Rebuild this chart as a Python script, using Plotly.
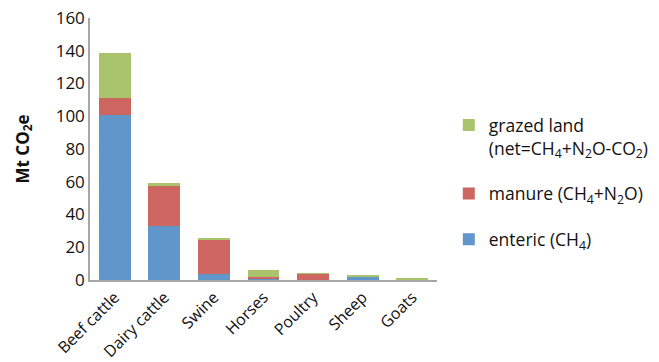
import plotly.graph_objects as go

categories = ["Beef cattle", "Dairy cattle", "Swine", "Horses", "Poultry", "Sheep", "Goats"]
enteric = [101, 33, 3.5, 0.9, 0.1, 1.9, 0.4]
manure = [10, 25, 21.3, 1.2, 4.0, 0.3, 0.1]
grazed = [27.5, 1.0, 0.3, 4.0, 0.1, 0.3, 0.2]

series_names = [
    "enteric (CH<sub>4</sub>)",
    "manure (CH<sub>4</sub>+N<sub>2</sub>O)",
    "grazed land<br>(net=CH<sub>4</sub>+N<sub>2</sub>O-CO<sub>2</sub>)",
]
colors = ["#6196CA", "#CD6660", "#AAC46E"]
ranks = [3, 2, 1]
yticks = [0, 20, 40, 60, 80, 100, 120, 140, 160]

FONT = "Open Sans"

fig = go.Figure()
for i, (vals, name, col) in enumerate(zip([enteric, manure, grazed], series_names, colors)):
    fig.add_trace(go.Bar(
        x=categories, y=vals, name=name,
        marker=dict(color=col, line=dict(width=0)),
        legendgroup=str(i), legendrank=ranks[i],
    ))

fig.update_layout(
    barmode="stack",
    bargap=0.36,
    width=659, height=362,
    margin=dict(l=90, r=222, t=18, b=82, autoexpand=False),
    plot_bgcolor="white", paper_bgcolor="white",
    font=dict(family=FONT, size=16, color="#111111"),
    showlegend=True,
    legend=dict(
        x=1.034, xanchor="left", y=0.66, yanchor="top",
        traceorder="grouped",
        tracegroupgap=20,
        valign="top",
        font=dict(family=FONT, size=17.5, color="#111111"),
        itemwidth=30,
        bgcolor="rgba(0,0,0,0)",
    ),
    yaxis=dict(
        range=[0, 160], tickvals=yticks, showgrid=False,
        showline=True, linecolor="#A6A6A6", linewidth=1.5,
        ticks="", tickfont=dict(size=17),
        title=dict(text="<b>Mt CO<sub>2</sub>e</b>", font=dict(size=17), standoff=22),
        zeroline=False, automargin=False,
    ),
    xaxis=dict(
        showline=True, linecolor="#A6A6A6", linewidth=1.5,
        tickangle=-45, ticks="", tickfont=dict(size=16),
        automargin=False,
    ),
)

fig.write_html("out.html")
